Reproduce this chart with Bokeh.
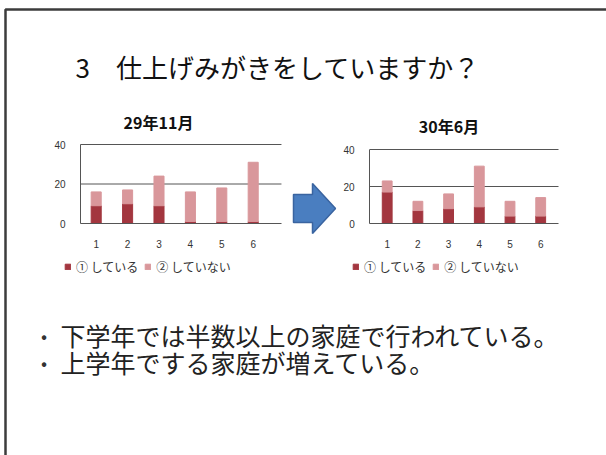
from bokeh.plotting import figure
from bokeh.models import (Range1d, LinearAxis, FixedTicker, Legend, LegendItem,
                          ColumnDataSource)
from bokeh.core.properties import value
from bokeh.embed import file_html
from bokeh.resources import INLINE

# ---------------- data ----------------
grades = [1, 2, 3, 4, 5, 6]
grade_labels = ["1", "2", "3", "4", "5", "6"]
series_names = ["① している", "② していない"]
nov29_doing = [9, 10, 9, 1, 1, 1]
nov29_not_doing = [7, 7, 15, 15, 17, 30]
jun30_doing = [17, 7, 8, 9, 4, 4]
jun30_not_doing = [6, 5, 8, 22, 8, 10]
value_ticks = [0, 20, 40]
chart_titles = ["29年11月", "30年6月"]
page_title = "3　仕上げみがきをしていますか？"
bullet_lines = ["下学年では半数以上の家庭で行われている。",
                "上学年でする家庭が増えている。"]

# ---------------- style ----------------
DARK = "#A3363F"
LIGHT = "#D9979B"
AXIS = "#555555"
JP = "Noto Sans CJK JP"

# the page template places the figure at the top-left corner
W, H, M = 606, 455, 0


def fx(px):
    return px - M


def fy(py):
    return py - M


p = figure(width=W, height=H, x_range=Range1d(0, W), y_range=Range1d(H, 0),
           output_backend="svg", toolbar_location=None,
           x_axis_type=None, y_axis_type=None, min_border=0,
           outline_line_color=None, background_fill_color="white",
           border_fill_color="white")

# slide frame
p.line(x=[fx(5), fx(5), fx(606)], y=[fy(455), fy(9), fy(9)],
       line_color="#3c3c3c", line_width=2.5)

# page title
p.text(x=[fx(75)], y=[fy(66)], text=[page_title], text_align="left",
       text_baseline="middle", text_font=value(JP), text_font_size="26px",
       text_color="#111111")

# charts
chart_specs = [
    dict(key="c1", doing=nov29_doing, not_doing=nov29_not_doing,
         title=chart_titles[0], cat1_x=95.7, cat_step=31.4, zero_y=223.0,
         unit_px=79 / 40, left=0.5, right=6.9, title_pos=(158, 121),
         legend_x=64),
    dict(key="c2", doing=jun30_doing, not_doing=jun30_not_doing,
         title=chart_titles[1], cat1_x=386.7, cat_step=30.7, zero_y=223.0,
         unit_px=74 / 40, left=0.43, right=6.58, title_pos=(448.5, 125),
         legend_x=352),
]

extra_x = {}
extra_y = {}
for s in chart_specs:
    extra_x[s["key"] + "x"] = Range1d(1 + (M - s["cat1_x"]) / s["cat_step"],
                                      1 + (M + W - s["cat1_x"]) / s["cat_step"])
    extra_y[s["key"] + "y"] = Range1d((s["zero_y"] - (M + H)) / s["unit_px"],
                                      (s["zero_y"] - M) / s["unit_px"])
p.extra_x_ranges = extra_x
p.extra_y_ranges = extra_y

for s in chart_specs:
    kx, ky = s["key"] + "x", s["key"] + "y"

    # grid lines
    grid_vals = value_ticks[1:]
    p.segment(x0=[s["left"]] * len(grid_vals), x1=[s["right"]] * len(grid_vals),
              y0=grid_vals, y1=grid_vals, line_color=AXIS, line_width=1,
              x_range_name=kx, y_range_name=ky)

    src = ColumnDataSource(dict(grade=grades, doing=s["doing"],
                                not_doing=s["not_doing"]))
    rs = p.vbar_stack(["doing", "not_doing"], x="grade", width=0.32,
                      color=[DARK, LIGHT], source=src,
                      x_range_name=kx, y_range_name=ky)

    yax = LinearAxis(x_range_name=kx, y_range_name=ky, fixed_location=s["left"],
                     ticker=FixedTicker(ticks=value_ticks),
                     bounds=(value_ticks[0], value_ticks[-1]))
    yax.axis_line_color = AXIS
    yax.major_tick_line_color = None
    yax.minor_tick_line_color = None
    yax.major_tick_out = 0
    yax.major_tick_in = 0
    yax.major_label_standoff = 15
    yax.major_label_text_font = "Liberation Sans"
    yax.major_label_text_font_size = "10px"
    yax.major_label_text_color = "#333333"
    p.add_layout(yax, "left")

    xax = LinearAxis(x_range_name=kx, y_range_name=ky, fixed_location=0,
                     ticker=FixedTicker(ticks=grades),
                     major_label_overrides={g: l for g, l in zip(grades, grade_labels)},
                     bounds=(s["left"], s["right"]))
    xax.axis_line_color = AXIS
    xax.major_tick_line_color = None
    xax.minor_tick_line_color = None
    xax.major_tick_out = 0
    xax.major_tick_in = 0
    xax.major_label_standoff = 16
    xax.major_label_text_font = "Liberation Sans"
    xax.major_label_text_font_size = "10px"
    xax.major_label_text_color = "#333333"
    p.add_layout(xax, "below")

    # chart title
    p.text(x=[fx(s["title_pos"][0])], y=[fy(s["title_pos"][1])], text=[s["title"]],
           text_align="center", text_baseline="middle", text_font=value(JP),
           text_font_size="16px", text_font_style="bold", text_color="#111111")

    leg = Legend(items=[LegendItem(label=value(series_names[i]), renderers=[rs[i]])
                        for i in range(len(series_names))],
                 location=(s["legend_x"] - M, H + M - 275),
                 orientation="horizontal", padding=0, margin=0, spacing=6,
                 label_standoff=5, glyph_width=7, glyph_height=7,
                 label_height=16, label_text_font=JP,
                 label_text_font_size="12px", label_text_color="#333333",
                 border_line_color=None, background_fill_alpha=0)
    p.add_layout(leg, "center")

# block arrow between charts
a_x0, a_x1, a_x2 = 293, 312, 335
a_yc, a_sh, a_hh = 208, 14, 25
p.patch(x=[fx(v) for v in [a_x0, a_x1, a_x1, a_x2, a_x1, a_x1, a_x0]],
        y=[fy(v) for v in [a_yc - a_sh, a_yc - a_sh, a_yc - a_hh, a_yc,
                           a_yc + a_hh, a_yc + a_sh, a_yc + a_sh]],
        fill_color="#4A7EC0", line_color="#3A64A0", line_width=1.5)

# bullet text
bullet_y = [fy(334), fy(361)]
p.text(x=[fx(43.5)] * len(bullet_lines), y=bullet_y, text=["•"] * len(bullet_lines),
       text_align="center", text_baseline="middle", text_font=value(JP),
       text_font_size="18px", text_color="#333333")
p.text(x=[fx(60)] * len(bullet_lines), y=bullet_y, text=bullet_lines,
       text_align="left", text_baseline="middle", text_font=value(JP),
       text_font_size="25px", text_color="#222222")

open("out.html", "w").write(file_html(p, INLINE))
